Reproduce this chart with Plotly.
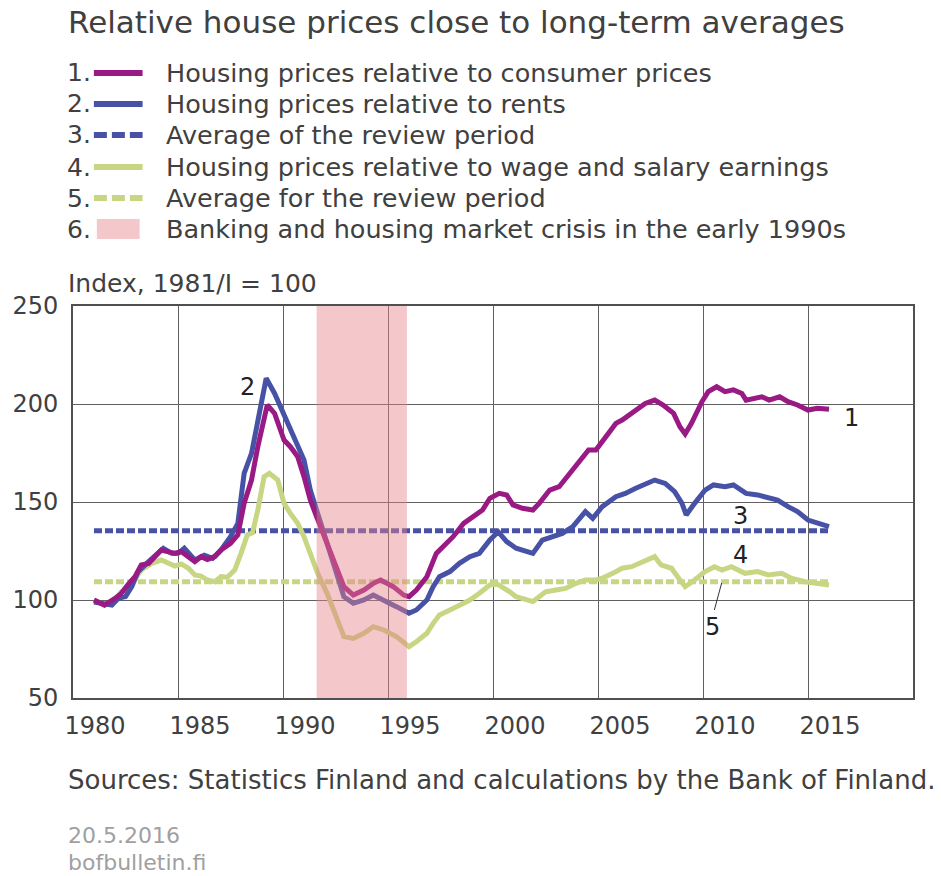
import plotly.graph_objects as go

# ---------------- data ----------------
years1 = [1981.0, 1981.5, 1982.0, 1982.3, 1982.6, 1982.95, 1983.25, 1983.6, 1983.9, 1984.2, 1984.5, 1984.85,
          1985.15, 1985.5, 1985.8, 1986.1, 1986.4, 1986.75, 1987.05, 1987.5, 1987.85, 1988.15, 1988.5, 1988.8,
          1989.1, 1989.25, 1989.6, 1990.05, 1990.35, 1990.7, 1991.0, 1991.3, 1991.6, 1992.1, 1992.4, 1992.9,
          1993.35, 1993.85, 1994.3, 1994.65, 1994.95, 1995.25, 1995.75, 1996.0, 1996.35, 1996.85, 1997.3, 1997.65,
          1998.1, 1998.6, 1999.05, 1999.5, 1999.85, 2000.3, 2000.65, 2000.95, 2001.4, 2001.9, 2002.2, 2002.7,
          2003.15, 2003.6, 2004.1, 2004.55, 2004.9, 2005.35, 2005.85, 2006.15, 2006.6, 2007.25, 2007.7, 2008.1,
          2008.6, 2008.9, 2009.15, 2009.45, 2009.95, 2010.25, 2010.65, 2011.05, 2011.45, 2011.85, 2012.05, 2012.45,
          2012.8, 2013.15, 2013.65, 2014.05, 2014.5, 2015.0, 2015.45, 2016.0]
consumer = [100, 97.4, 100.8, 103.4, 107.6, 111.9, 117.9, 118.7, 122.1, 125.5, 124.7, 123.8,
            124.7, 122.1, 119.6, 122.1, 120.7, 122.1, 125.5, 128.9, 133.2, 149.3, 161.2, 178.2,
            193.5, 199.5, 195.2, 181.6, 178.2, 173.1, 162.9, 151.0, 142.5, 128.9, 120.4, 106.8,
            102.5, 105.1, 108.5, 110.2, 108.5, 106.8, 102.5, 101.7, 105.1, 111.9, 123.8, 127.2,
            132.3, 139.1, 142.5, 145.9, 151.9, 154.4, 153.6, 148.5, 146.8, 145.9, 149.3, 156.1,
            157.8, 163.8, 169.7, 176.5, 176.5, 183.3, 190.1, 191.8, 195.2, 200.3, 202.0, 199.5,
            195.2, 188.4, 184.7, 190.1, 201.2, 206.3, 208.8, 206.3, 207.2, 205.4, 202.0, 202.9,
            203.7, 202.0, 203.7, 201.2, 199.5, 196.9, 197.8, 197.3]

years2 = [1981.0, 1981.85, 1982.15, 1982.5, 1982.8, 1983.1, 1983.6, 1984.05, 1984.3, 1984.7, 1985.0, 1985.3,
          1985.8, 1986.25, 1986.65, 1987.05, 1987.5, 1987.85, 1988.15, 1988.5, 1988.8, 1989.2, 1989.6, 1990.05,
          1990.55, 1991.0, 1991.3, 1991.6, 1992.1, 1992.4, 1992.9, 1993.35, 1993.85, 1994.3, 1994.8, 1995.4,
          1996.0, 1996.35, 1996.85, 1997.15, 1997.45, 1997.95, 1998.4, 1998.9, 1999.35, 1999.85, 2000.25, 2000.65,
          2001.1, 2001.55, 2001.9, 2002.35, 2002.85, 2003.3, 2003.8, 2004.4, 2004.75, 2005.2, 2005.85, 2006.3,
          2006.8, 2007.7, 2008.2, 2008.65, 2009.0, 2009.2, 2009.6, 2010.1, 2010.5, 2011.05, 2011.45, 2011.85,
          2012.05, 2012.6, 2013.1, 2013.55, 2014.05, 2014.5, 2015.0, 2015.45, 2016.0]
rents = [99, 97.4, 100.8, 101.7, 106.8, 114.5, 119.6, 123.8, 126.4, 123.8, 123.8, 126.4,
         120.4, 122.9, 121.3, 125.5, 132.3, 139.1, 164.6, 174.8, 190.1, 213.1, 205.4, 194.4,
         183.3, 171.4, 156.1, 145.9, 128.9, 118.7, 101.7, 98.3, 100.0, 102.5, 100.0, 96.6,
         93.2, 94.9, 100.0, 106.8, 111.9, 114.5, 118.7, 122.1, 123.8, 130.6, 134.8, 129.8,
         126.4, 124.7, 123.8, 130.6, 132.3, 134.0, 137.4, 145.1, 141.7, 147.6, 152.7, 154.4,
         157.0, 161.2, 159.5, 155.3, 149.3, 143.4, 149.3, 156.1, 158.7, 157.8, 158.7, 156.1,
         154.4, 153.6, 151.9, 151.0, 147.6, 145.1, 140.8, 139.1, 137.4]

years4 = [1981.0, 1981.5, 1982.0, 1982.3, 1982.65, 1982.95, 1983.25, 1983.75, 1984.2, 1984.85, 1985.15, 1985.5,
          1985.8, 1986.1, 1986.4, 1986.75, 1987.05, 1987.35, 1987.7, 1988.0, 1988.3, 1988.55, 1988.8, 1989.1,
          1989.35, 1989.75, 1990.05, 1990.35, 1990.7, 1991.0, 1991.4, 1991.65, 1992.1, 1992.4, 1992.9, 1993.35,
          1993.85, 1994.3, 1994.8, 1995.4, 1996.0, 1996.35, 1996.85, 1997.15, 1997.45, 1997.95, 1998.4, 1998.9,
          1999.35, 1999.85, 2000.15, 2000.45, 2000.8, 2001.1, 2001.55, 2001.9, 2002.2, 2002.5, 2003.0, 2003.45,
          2003.95, 2004.4, 2004.9, 2005.2, 2005.7, 2006.15, 2006.6, 2007.1, 2007.7, 2008.0, 2008.5, 2008.85,
          2009.15, 2009.6, 2010.1, 2010.55, 2010.9, 2011.35, 2012.0, 2012.6, 2013.1, 2013.75, 2014.2, 2014.85,
          2015.45, 2016.0]
wages = [100, 97.4, 100, 104.2, 105.9, 110.2, 115.3, 118.7, 120.4, 117.3, 118.4, 116.2,
         112.8, 112.2, 110.2, 109.3, 111.9, 111.6, 115.3, 123.8, 133.2, 134.3, 145.9, 162.9,
         164.6, 161.2, 149.3, 144.2, 139.1, 132.3, 120.4, 113.6, 103.4, 94.9, 81.3, 80.4,
         83.0, 86.4, 84.7, 81.3, 76.2, 78.7, 83.0, 88.1, 92.3, 94.9, 97.4, 100.0,
         103.4, 107.6, 108.5, 106.8, 104.2, 101.7, 100.0, 99.2, 101.7, 104.2, 105.1, 105.9,
         108.5, 110.2, 110.2, 111.1, 113.6, 116.2, 117.0, 119.6, 122.1, 117.9, 116.2, 111.0,
         106.8, 110.2, 114.5, 117.0, 115.3, 117.0, 113.6, 114.5, 112.8, 113.6, 111.1, 109.3,
         108.5, 107.6]

avg_period = [1981.0, 2016.0]
avg_rents = 135.3
avg_wages = 109.3

crisis = [1991.6, 1995.9]

tick_years = [1980, 1985, 1990, 1995, 2000, 2005, 2010, 2015]
tick_labels = [str(y) for y in tick_years]
y_ticks = [50, 100, 150, 200, 250]

legend_labels = [
    "Housing prices relative to consumer prices",
    "Housing prices relative to rents",
    "Average of the review period",
    "Housing prices relative to wage and salary earnings",
    "Average for the review period",
    "Banking and housing market crisis in the early 1990s",
]

# ---------------- style ----------------
PURPLE = "#991a84"
BLUE = "#4752a6"
GREEN = "#c6d682"
PINK_SOLID = "#f4c7ca"
PINK_OVER = "rgba(231,131,137,0.45)"
TXT = "#404040"
GRID = "#606060"
FONT = "DejaVu Sans"

W, H = 941, 876
ML, MR, MT, MB = 68, 28, 306, 178
PW = W - ML - MR
PH = H - MT - MB
TX = 61  # left edge of left-aligned texts (compensates annotation padding)


def px(x):
    return (x - ML) / PW


def py(y):
    return (H - MB - y) / PH


fig = go.Figure()

fig.add_trace(go.Scatter(x=avg_period, y=[avg_rents, avg_rents], mode="lines",
                         line=dict(color=BLUE, width=5, dash="8px,3px"), hoverinfo="skip"))
fig.add_trace(go.Scatter(x=avg_period, y=[avg_wages, avg_wages], mode="lines",
                         line=dict(color=GREEN, width=5, dash="8px,3px"), hoverinfo="skip"))
fig.add_trace(go.Scatter(x=years4, y=wages, mode="lines", line=dict(color=GREEN, width=5)))
fig.add_trace(go.Scatter(x=years2, y=rents, mode="lines", line=dict(color=BLUE, width=5)))
fig.add_trace(go.Scatter(x=years1, y=consumer, mode="lines", line=dict(color=PURPLE, width=5)))

shapes = []
# crisis shading over the lines
shapes.append(dict(type="rect", xref="x", yref="paper", x0=crisis[0], x1=crisis[1], y0=0, y1=1,
                   fillcolor=PINK_OVER, line=dict(width=0), layer="above"))
# leader line for label 5
shapes.append(dict(type="line", xref="x", yref="y", x0=2010.54, y0=94.9, x1=2010.89, y1=108.7,
                   line=dict(color="#333", width=1)))

annotations = []
# title
annotations.append(dict(text="Relative house prices close to long-term averages", xref="paper", yref="paper",
                        x=px(TX), y=py(22), xanchor="left", yanchor="middle", showarrow=False,
                        font=dict(family=FONT, size=31, color=TXT)))
# legend
row_y = [73, 104, 135, 167, 198, 229]
styles = [("line", PURPLE), ("line", BLUE), ("dash", BLUE), ("line", GREEN), ("dash", GREEN), ("rect", PINK_SOLID)]
for i, (lab, (kind, col)) in enumerate(zip(legend_labels, styles)):
    yy = row_y[i]
    annotations.append(dict(text=f"{i+1}.", xref="paper", yref="paper", x=px(TX - 1), y=py(yy),
                            xanchor="left", yanchor="middle", showarrow=False,
                            font=dict(family=FONT, size=25, color=TXT)))
    annotations.append(dict(text=lab, xref="paper", yref="paper", x=px(160), y=py(yy),
                            xanchor="left", yanchor="middle", showarrow=False,
                            font=dict(family=FONT, size=25.5, color=TXT)))
    if kind == "rect":
        shapes.append(dict(type="rect", xref="paper", yref="paper", x0=px(92), x1=px(135),
                           y0=py(yy + 10), y1=py(yy - 10), fillcolor=col, line=dict(width=0)))
    else:
        shapes.append(dict(type="line", xref="paper", yref="paper", x0=px(89), x1=px(138),
                           y0=py(yy), y1=py(yy),
                           line=dict(color=col, width=6, dash="13px,5px" if kind == "dash" else "solid")))

# axis title
annotations.append(dict(text="Index, 1981/I = 100", xref="paper", yref="paper", x=px(TX), y=py(283),
                        xanchor="left", yanchor="middle", showarrow=False,
                        font=dict(family=FONT, size=25, color=TXT)))
# series labels
for txt, xx, yy in [("2", 1988.29, 208.8), ("1", 2017.05, 192.9), ("3", 2011.79, 143.0),
                    ("4", 2011.79, 123.0), ("5", 2010.45, 86.4)]:
    annotations.append(dict(text=txt, xref="x", yref="y", x=xx, y=yy, showarrow=False,
                            font=dict(family=FONT, size=24, color="#222")))
# footer
annotations.append(dict(text="Sources: Statistics Finland and calculations by the Bank of Finland.",
                        xref="paper", yref="paper", x=px(TX), y=py(780), xanchor="left", yanchor="middle",
                        showarrow=False, font=dict(family=FONT, size=26, color=TXT)))
annotations.append(dict(text="20.5.2016", xref="paper", yref="paper", x=px(TX), y=py(835),
                        xanchor="left", yanchor="middle", showarrow=False,
                        font=dict(family=FONT, size=22, color="#a0a0a0")))
annotations.append(dict(text="bofbulletin.fi", xref="paper", yref="paper", x=px(TX), y=py(862),
                        xanchor="left", yanchor="middle", showarrow=False,
                        font=dict(family=FONT, size=22, color="#a0a0a0")))

fig.update_layout(
    width=W, height=H,
    margin=dict(l=ML, r=MR, t=MT, b=MB, pad=0),
    paper_bgcolor="white", plot_bgcolor="white",
    showlegend=False,
    shapes=shapes, annotations=annotations,
    font=dict(family=FONT, size=24, color=TXT),
    xaxis=dict(range=[1980, 2020], tickmode="array", tickvals=tick_years, ticktext=tick_labels,
               showgrid=True, gridcolor=GRID, gridwidth=1, zeroline=False,
               showline=True, mirror=True, linecolor="#505050", linewidth=2, ticks="",
               ticklabelshift=22, ticklabelstandoff=5,
               tickfont=dict(family=FONT, size=24, color=TXT), fixedrange=True),
    yaxis=dict(range=[50, 250], tickmode="array", tickvals=y_ticks,
               showgrid=True, gridcolor=GRID, gridwidth=1, zeroline=False,
               showline=True, mirror=True, linecolor="#505050", linewidth=2, ticks="",
               ticklabelstandoff=8,
               tickfont=dict(family=FONT, size=24, color=TXT), fixedrange=True),
)

fig.write_html("out.html", config={"displayModeBar": False},
               post_script="document.body.style.margin='0';document.body.style.overflow='hidden';")
